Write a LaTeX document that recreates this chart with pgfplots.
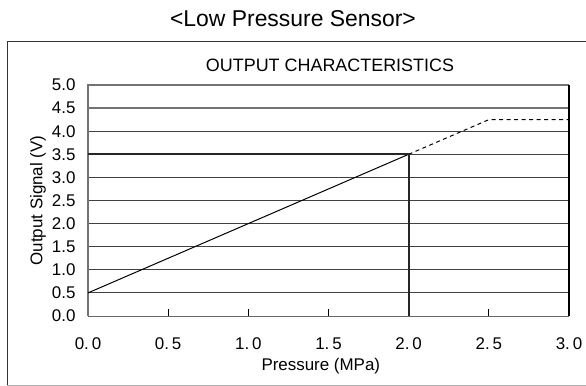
\documentclass[border=0pt]{standalone}
\usepackage{pgfplots}
\pgfplotsset{compat=1.18}
\usepackage{fontspec}
\setmainfont{Liberation Sans}
\begin{document}
\begin{tikzpicture}
\useasboundingbox (0,0) rectangle (586bp,386bp);
\draw[gray!60, line width=0.8bp] (7bp,1bp) -- (590bp,1bp);
\draw[black!80, line width=1bp] (7bp,1bp) -- (7bp,344bp) -- (590bp,344bp);
\node[font=\fontsize{23}{26}\selectfont] at (293bp,367bp) {<Low Pressure Sensor>};
\node[font=\fontsize{18}{21}\selectfont] at (330bp,321bp) {OUTPUT CHARACTERISTICS};
\begin{axis}[
  at={(88bp,70bp)}, anchor=south west,
  scale only axis, width=481bp, height=231bp,
  xmin=0, xmax=3, ymin=0, ymax=5,
  axis line style={draw=none},
  xtick={0,0.5,1,1.5,2,2.5,3},
  xticklabels={0.\,0,0.\,5,1.\,0,1.\,5,2.\,0,2.\,5,3.\,0},
  ytick={0,0.5,...,5},
  yticklabels={0.0,0.5,1.0,1.5,2.0,2.5,3.0,3.5,4.0,4.5,5.0},
  major tick length=0pt,
  ticklabel style={font=\fontsize{17}{20}\selectfont},
  xticklabel style={yshift=-18bp},
  yticklabel style={xshift=-9bp},
  xlabel={Pressure (MPa)},
  ylabel={Output Signal (V)},
  label style={font=\fontsize{17}{20}\selectfont},
  xlabel style={at={(axis description cs:0.484,0)}, anchor=center, yshift=-50bp},
  ylabel style={at={(axis description cs:0,0.5)}, anchor=center, yshift=50bp},
  clip=false,
]
% horizontal grid lines
\addplot[black!75, line width=0.9bp] coordinates {(0,0.5) (3,0.5)};
\addplot[black!75, line width=0.9bp] coordinates {(0,1) (3,1)};
\addplot[black!75, line width=0.9bp] coordinates {(0,1.5) (3,1.5)};
\addplot[black!75, line width=0.9bp] coordinates {(0,2) (3,2)};
\addplot[black!75, line width=0.9bp] coordinates {(0,2.5) (3,2.5)};
\addplot[black!75, line width=0.9bp] coordinates {(0,3) (3,3)};
\addplot[black!75, line width=0.9bp] coordinates {(2,3.5) (3,3.5)};
\addplot[black!75, line width=0.9bp] coordinates {(0,4) (3,4)};
\addplot[black!55, line width=1.2bp] coordinates {(0,4.5) (3,4.5)};
% frame
\addplot[black!55, line width=1.2bp] coordinates {(0,0) (0,5) (3,5)};
\addplot[black!60, line width=1bp] coordinates {(0,0) (3,0)};
\addplot[black, line width=1.2bp] coordinates {(3,5) (3,0)};
% x ticks
\addplot[black, line width=0.8bp] coordinates {(0.5,0) (0.5,0.15)};
\addplot[black, line width=0.8bp] coordinates {(1,0) (1,0.15)};
\addplot[black, line width=0.8bp] coordinates {(1.5,0) (1.5,0.15)};
\addplot[black, line width=0.8bp] coordinates {(2.5,0) (2.5,0.15)};
% characteristic
\addplot[black, line width=1bp] coordinates {(0,0.5) (2,3.5)};
\addplot[black, line width=1bp, dash pattern=on 4bp off 3.5bp] coordinates {(2,3.5) (2.5,4.25) (3,4.25)};
% thick reference lines
\addplot[black!85, line width=2.2bp] coordinates {(0,3.5) (2,3.5) (2,0)};
\end{axis}
\end{tikzpicture}
\end{document}
